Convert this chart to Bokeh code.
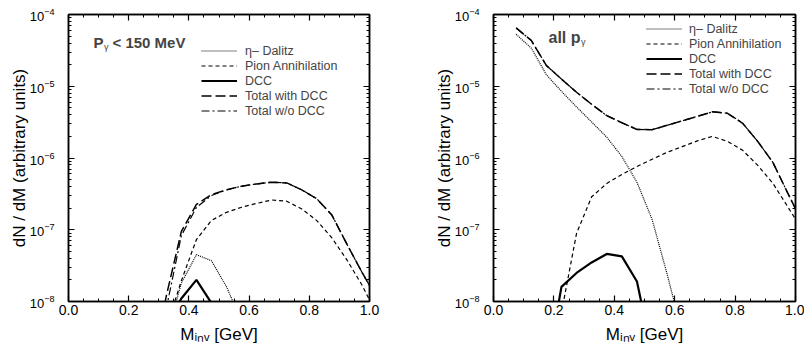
from bokeh.plotting import figure
from bokeh.layouts import row
from bokeh.models import (Legend, LegendItem, Label, LinearAxis, LogAxis, LogTicker,
                          SingleIntervalTicker, PrintfTickFormatter, CustomJSTickFormatter)
from bokeh.embed import file_html
from bokeh.resources import INLINE

FONT = "Liberation Sans"

# ---------------- data: left panel (P_gamma < 150 MeV) ----------------
eta_L_x = [0.325, 0.375, 0.425, 0.475, 0.525, 0.575]
eta_L = [3.2e-9, 1.8e-8, 4.5e-8, 3.7e-8, 1.6e-8, 5.3e-9]

pion_L_x = [0.325, 0.375, 0.425, 0.475, 0.525, 0.575, 0.625, 0.675, 0.725, 0.775,
            0.825, 0.875, 0.925, 0.975, 1.025]
pion_L = [4.3e-9, 1.95e-8, 7.3e-8, 1.35e-7, 1.75e-7, 2.06e-7, 2.33e-7, 2.6e-7, 2.5e-7, 1.95e-7,
          1.34e-7, 7.7e-8, 3.8e-8, 1.7e-8, 6.5e-9]

dcc_L_x = [0.325, 0.375, 0.425, 0.475, 0.525]
dcc_L = [5e-9, 1.1e-8, 2.0e-8, 9.5e-9, 3e-9]

tot_L_x = [0.275, 0.325, 0.375, 0.425, 0.475, 0.525, 0.575, 0.625, 0.675, 0.725,
           0.775, 0.825, 0.875, 0.925, 0.975, 1.025]
tot_with_L = [1e-9, 1.2e-8, 9.5e-8, 2.25e-7, 3.1e-7, 3.6e-7, 4.05e-7, 4.35e-7, 4.6e-7, 4.5e-7,
              3.6e-7, 2.7e-7, 1.6e-7, 6.3e-8, 2.55e-8, 1.1e-8]
tot_wo_L = [1e-9, 8e-9, 8.3e-8, 2.05e-7, 3.0e-7, 3.6e-7, 4.05e-7, 4.35e-7, 4.6e-7, 4.5e-7,
            3.6e-7, 2.7e-7, 1.6e-7, 6.3e-8, 2.55e-8, 1.1e-8]

# ---------------- data: right panel (all p_gamma) ----------------
eta_R_x = [0.075, 0.125, 0.175, 0.225, 0.275, 0.325, 0.375, 0.425, 0.475, 0.525, 0.575, 0.625]
eta_R = [5.3e-5, 3.4e-5, 1.45e-5, 8.5e-6, 5.15e-6, 3.18e-6, 1.95e-6, 1.05e-6, 4.6e-7, 1.4e-7,
         2.4e-8, 3.6e-9]

pion_R_x = [0.225, 0.275, 0.325, 0.375, 0.425, 0.475, 0.525, 0.575, 0.625, 0.675, 0.725,
            0.775, 0.825, 0.875, 0.925, 0.975, 1.025]
pion_R = [7e-9, 8.9e-8, 2.88e-7, 4.42e-7, 5.9e-7, 7.6e-7, 9.6e-7, 1.2e-6, 1.44e-6, 1.73e-6, 2.0e-6,
          1.7e-6, 1.28e-6, 7.9e-7, 4.45e-7, 2.07e-7, 9.5e-8]

dcc_R_x = [0.175, 0.225, 0.275, 0.325, 0.375, 0.425, 0.475, 0.525]
dcc_R = [1e-9, 1.6e-8, 2.5e-8, 3.5e-8, 4.6e-8, 4.25e-8, 1.9e-8, 1.9e-9]

tot_R_x = [0.075, 0.125, 0.175, 0.225, 0.275, 0.325, 0.375, 0.425, 0.475, 0.525, 0.575, 0.625,
           0.675, 0.725, 0.775, 0.825, 0.875, 0.925, 0.975, 1.025]
tot_with_R = [6.5e-5, 4.35e-5, 1.95e-5, 1.26e-5, 8.25e-6, 5.6e-6, 3.9e-6, 3.1e-6, 2.5e-6, 2.48e-6,
              2.86e-6, 3.3e-6, 3.8e-6, 4.4e-6, 4.2e-6, 3.05e-6, 1.7e-6, 8.7e-7, 3.2e-7, 1.2e-7]
tot_wo_R = [6.5e-5, 4.35e-5, 1.95e-5, 1.26e-5, 8.25e-6, 5.6e-6, 3.9e-6, 3.1e-6, 2.5e-6, 2.48e-6,
            2.86e-6, 3.3e-6, 3.8e-6, 4.4e-6, 4.2e-6, 3.05e-6, 1.7e-6, 8.7e-7, 3.2e-7, 1.2e-7]

legend_labels = ["\u03b7\u2013 Dalitz", "Pion Annihilation", "DCC", "Total with DCC", "Total w/o DCC"]
x_label = "M\u1d62\u2099\u1d65 [GeV]"
y_label = "dN / dM (arbitrary units)"
x_ticks_interval = 0.2
x_range = (0.0, 1.0)
y_range = (1e-8, 1e-4)


def style_axes(p):
    p.xgrid.visible = False
    p.ygrid.visible = False
    p.outline_line_color = "black"
    p.outline_line_width = 1.5
    p.xaxis.ticker = SingleIntervalTicker(interval=x_ticks_interval, num_minor_ticks=4)
    p.xaxis.formatter = PrintfTickFormatter(format="%.1f")
    p.yaxis.ticker = LogTicker(num_minor_ticks=10)
    for ax in p.xaxis + p.yaxis:
        ax.axis_line_width = 1.5
        ax.axis_line_color = "black"
        ax.major_tick_in = 6
        ax.major_tick_out = 0
        ax.minor_tick_in = 3
        ax.minor_tick_out = 0
        ax.major_tick_line_width = 1.2
        ax.minor_tick_line_width = 1
        ax.major_label_text_font = FONT
        ax.major_label_text_color = "black"
        ax.axis_label_text_font = FONT
        ax.axis_label_text_font_size = "17px"
        ax.axis_label_text_font_style = "normal"
        ax.axis_label_text_color = "black"
    p.xaxis.major_label_text_font_size = "14px"
    p.xaxis.major_label_standoff = 3
    p.xaxis.axis_label = x_label
    p.xaxis.axis_label_standoff = 7
    p.yaxis.major_label_text_font_size = "13px"
    p.yaxis.major_label_standoff = 14
    p.yaxis.axis_label = y_label
    p.yaxis.axis_label_standoff = -2

    empty = CustomJSTickFormatter(code="return ''")
    top = LinearAxis(ticker=SingleIntervalTicker(interval=x_ticks_interval, num_minor_ticks=4),
                     formatter=empty, major_label_standoff=0)
    right = LogAxis(ticker=LogTicker(num_minor_ticks=10), formatter=empty, major_label_standoff=0)
    for ax in (top, right):
        ax.axis_line_width = 1.5
        ax.major_tick_in = 6
        ax.major_tick_out = 0
        ax.minor_tick_in = 3
        ax.minor_tick_out = 0
        ax.major_tick_line_width = 1.2
    p.add_layout(top, "above")
    p.add_layout(right, "right")


def draw(p, ex, ey, px, py, dx, dy, tx, twith, two, leg_loc, standoff):
    r_eta = p.line(ex, ey, line_color="black", line_width=1.2, line_dash="1 1")
    r_pion = p.line(px, py, line_color="black", line_width=1.2, line_dash="4 3")
    r_dcc = p.line(dx, dy, line_color="black", line_width=2.2)
    r_with = p.line(tx, twith, line_color="black", line_width=1.5, line_dash="10 4")
    r_wo = p.line(tx, two, line_color="black", line_width=1.2, line_dash="8 3 2 3")
    items = [LegendItem(label=lab, renderers=[r]) for lab, r in
             zip(legend_labels, [r_eta, r_pion, r_dcc, r_with, r_wo])]
    leg = Legend(items=items, location=leg_loc, padding=0, margin=0, spacing=0,
                 glyph_width=36, glyph_height=15, label_height=15, label_standoff=standoff,
                 label_text_font=FONT, label_text_font_size="12.5px",
                 background_fill_alpha=0, border_line_alpha=0)
    p.add_layout(leg)


p1 = figure(width=400, height=346, x_range=x_range, y_range=y_range,
            y_axis_type="log", output_backend="svg", toolbar_location=None,
            min_border_left=68, min_border_right=31, min_border_top=14, min_border_bottom=45,
            background_fill_color="white", border_fill_color="white")
style_axes(p1)
draw(p1, eta_L_x, eta_L, pion_L_x, pion_L, dcc_L_x, dcc_L, tot_L_x, tot_with_L, tot_wo_L,
     (133, 183), 8)
p1.add_layout(Label(x=25, y=259, x_units="screen", y_units="screen", text="P",
                    text_font=FONT, text_font_size="15px", text_font_style="bold",
                    text_baseline="alphabetic"))
p1.add_layout(Label(x=35.5, y=255, x_units="screen", y_units="screen", text="\u03b3",
                    text_font=FONT, text_font_size="9px", text_baseline="alphabetic"))
p1.add_layout(Label(x=44, y=259, x_units="screen", y_units="screen", text="< 150 MeV",
                    text_font=FONT, text_font_size="15px", text_font_style="bold",
                    text_baseline="alphabetic"))

p2 = figure(width=404, height=346, x_range=x_range, y_range=y_range,
            y_axis_type="log", output_backend="svg", toolbar_location=None,
            min_border_left=93, min_border_right=9, min_border_top=14, min_border_bottom=45,
            background_fill_color="white", border_fill_color="white")
style_axes(p2)
draw(p2, eta_R_x, eta_R, pion_R_x, pion_R, dcc_R_x, dcc_R, tot_R_x, tot_with_R, tot_wo_R,
     (153, 205), 7)
p2.add_layout(Label(x=55, y=264, x_units="screen", y_units="screen", text="all p",
                    text_font=FONT, text_font_size="16px", text_font_style="bold",
                    text_baseline="alphabetic"))
p2.add_layout(Label(x=87.5, y=259.5, x_units="screen", y_units="screen", text="\u03b3",
                    text_font=FONT, text_font_size="9px", text_baseline="alphabetic"))

layout = row(p1, p2, spacing=0)
open("out.html", "w").write(file_html(layout, INLINE))
